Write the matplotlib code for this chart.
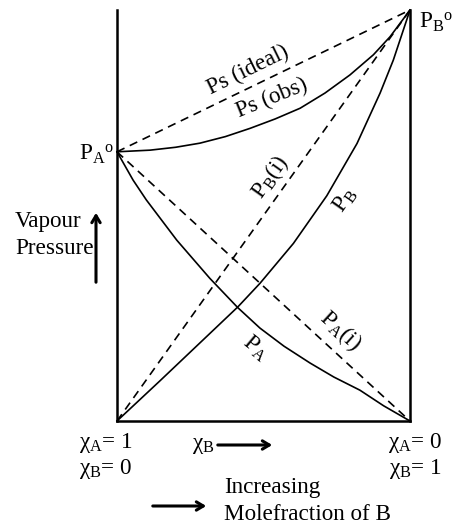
import matplotlib
matplotlib.use('Agg')
import matplotlib.pyplot as plt

plt.rcParams['font.family'] = ['Liberation Serif', 'DejaVu Serif']
plt.rcParams['mathtext.fontset'] = 'custom'
plt.rcParams['mathtext.rm'] = 'Liberation Serif'
plt.rcParams['mathtext.it'] = 'Liberation Serif:italic'

# mole fraction of B (0..1) and vapour pressure (PB° = 1)
pa_star = 0.655
pb_star = 1.0

xb_pa = [0, 0.055, 0.10, 0.204, 0.317, 0.412, 0.488, 0.57, 0.659, 0.74, 0.829, 0.91, 1.0]
p_a = [0.655, 0.586, 0.538, 0.440, 0.347, 0.276, 0.226, 0.182, 0.141, 0.107, 0.075, 0.037, 0.0]

xb_pb = [0, 0.147, 0.317, 0.413, 0.488, 0.602, 0.716, 0.819, 0.898, 0.943, 1.0]
p_b = [0, 0.098, 0.213, 0.278, 0.335, 0.432, 0.548, 0.675, 0.798, 0.878, 1.0]

xb_ps = [0, 0.113, 0.20, 0.283, 0.37, 0.454, 0.54, 0.625, 0.71, 0.795, 0.875, 0.932, 1.0]
p_s = [0.655, 0.659, 0.666, 0.676, 0.692, 0.712, 0.735, 0.761, 0.798, 0.842, 0.891, 0.935, 1.0]

W, H = 453, 526
fig = plt.figure(figsize=(W / 100, H / 100), dpi=100)
ax = fig.add_axes([117 / W, 1 - 421 / H, 293 / W, 411 / H])


def fx(px, py):
    return px / W, 1 - py / H


lw = 1.2
dash = (0, (5, 3.5))
# ideal lines (dashed)
ax.plot([0, 1], [pa_star, pb_star], color='black', lw=lw, ls=dash)
ax.plot([0, 1], [pa_star, 0], color='black', lw=lw, ls=dash)
ax.plot([0, 1], [0, pb_star], color='black', lw=lw, ls=dash)
# observed curves
ax.plot(xb_pa, p_a, color='black', lw=lw)
ax.plot(xb_pb, p_b, color='black', lw=lw)
ax.plot(xb_ps, p_s, color='black', lw=lw)

ax.set_xlim(0, 1)
ax.set_ylim(0, 1.0)
ax.set_xticks([])
ax.set_yticks([])
ax.spines['top'].set_visible(False)
for s in ['left', 'right', 'bottom']:
    ax.spines[s].set_linewidth(1.8)
ax.patch.set_alpha(0)
for line in ax.lines:
    line.set_clip_on(False)

fs = 16.7
# labels on curves
ax.text(0.447, 0.854, 'Ps (ideal)', rotation=26, ha='center', va='center', fontsize=fs)
ax.text(0.529, 0.786, 'Ps (obs)', rotation=22, ha='center', va='center', fontsize=fs)
ax.text(0.522, 0.594, r'P$_{\rm B}$(i)', rotation=54.5, ha='center', va='center', fontsize=fs)
ax.text(0.778, 0.538, r'P$_{\rm B}$', rotation=55, ha='center', va='center', fontsize=fs)
ax.text(0.761, 0.221, r'P$_{\rm A}$(i)', rotation=-42.5, ha='center', va='center', fontsize=fs)
ax.text(0.471, 0.178, r'P$_{\rm A}$', rotation=-40, ha='center', va='center', fontsize=fs)

# pure component pressures
fig.text(*fx(96, 154), r'P$_{\rm A}$$^{\rm o}$', ha='center', va='center', fontsize=fs)
fig.text(*fx(436, 22), r'P$_{\rm B}$$^{\rm o}$', ha='center', va='center', fontsize=fs)

# y axis label with arrow
fig.text(*fx(15, 222), 'Vapour', ha='left', va='center', fontsize=fs)
fig.text(*fx(15, 248), 'Pressure', ha='left', va='center', fontsize=fs)
arrow = '->,head_length=5,head_width=3'
fig.add_artist(matplotlib.patches.FancyArrowPatch(
    fx(96, 285), fx(96, 210), transform=fig.transFigure,
    arrowstyle=arrow, lw=2.2, color='black'))

# x axis labels
fig.text(*fx(106, 443), r'χ$_{\rm A}$= 1', ha='center', va='center', fontsize=fs)
fig.text(*fx(106, 469), r'χ$_{\rm B}$= 0', ha='center', va='center', fontsize=fs)
fig.text(*fx(415, 443), r'χ$_{\rm A}$= 0', ha='center', va='center', fontsize=fs)
fig.text(*fx(415, 469), r'χ$_{\rm B}$= 1', ha='center', va='center', fontsize=fs)
fig.text(*fx(203, 445), r'χ$_{\rm B}$', ha='center', va='center', fontsize=fs)
fig.add_artist(matplotlib.patches.FancyArrowPatch(
    fx(215, 445), fx(275, 445), transform=fig.transFigure,
    arrowstyle=arrow, lw=2.2, color='black'))
fig.add_artist(matplotlib.patches.FancyArrowPatch(
    fx(150, 506), fx(209, 506), transform=fig.transFigure,
    arrowstyle=arrow, lw=2.2, color='black'))
fig.text(*fx(224, 488), 'Increasing', ha='left', va='center', fontsize=fs)
fig.text(*fx(224, 515), 'Molefraction of B', ha='left', va='center', fontsize=fs)

fig.savefig('out.png', dpi=100)
